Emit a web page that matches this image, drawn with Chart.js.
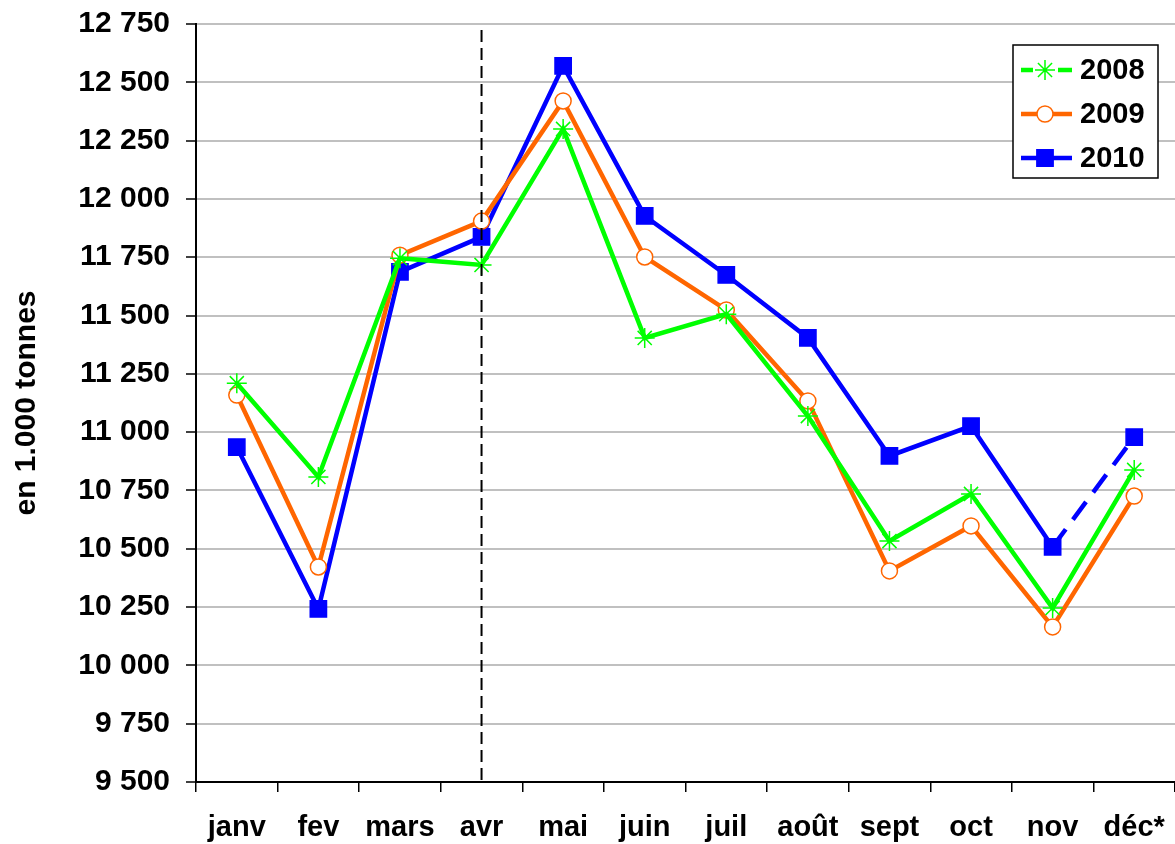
<!DOCTYPE html>
<html>
<head>
<meta charset="utf-8">
<script src="https://cdn.jsdelivr.net/npm/chart.js@4.4.0/dist/chart.umd.min.js"></script>
<style>
  body { margin: 0; background: #fff; }
</style>
</head>
<body>
<canvas id="graphique" width="1175" height="844"></canvas>
<script>
// donnees (en 1.000 tonnes)
const mois = ["janv", "fev", "mars", "avr", "mai", "juin", "juil", "août", "sept", "oct", "nov", "déc*"];
const valeurs2008 = [11210, 10808, 11746, 11717, 12300, 11404, 11506, 11069, 10533, 10735, 10246, 10838];
const valeurs2009 = [11159, 10422, 11759, 11905, 12420, 11751, 11524, 11134, 10405, 10598, 10165, 10726];
const valeurs2010 = [10936, 10242, 11687, 11837, 12570, 11927, 11674, 11404, 10898, 11026, 10508, 10979];
const moisMarque = "avr";

const police = "'Liberation Sans', Arial, sans-serif";

function formatMilliers(v) {
    return String(v).replace(/\B(?=(\d{3})+(?!\d))/g, " ");
}

// ligne verticale en pointilles sur avril
const lignePointillee = {
    id: "lignePointillee",
    afterDatasetsDraw(chart) {
        const ctx = chart.ctx;
        const x = chart.scales.x.getPixelForValue(mois.indexOf(moisMarque));
        ctx.save();
        ctx.strokeStyle = "#000";
        ctx.lineWidth = 2;
        ctx.setLineDash([12, 6]);
        ctx.beginPath();
        ctx.moveTo(x, chart.chartArea.top + 6);
        ctx.lineTo(x, chart.chartArea.bottom);
        ctx.stroke();
        ctx.restore();
    }
};

// legende encadree dans le coin haut droit
const legendeBoite = {
    id: "legendeBoite",
    afterDraw(chart) {
        const ctx = chart.ctx;
        const a = chart.chartArea;
        const gauche = a.right - 162, haut = a.top + 21;
        ctx.save();
        ctx.fillStyle = "#fff";
        ctx.fillRect(gauche, haut, 145, 133);
        ctx.strokeStyle = "#000";
        ctx.lineWidth = 1.5;
        ctx.strokeRect(gauche, haut, 145, 133);
        chart.data.datasets.forEach((ds, n) => {
            const y = haut + 25 + n * 44;
            ctx.strokeStyle = ds.borderColor;
            ctx.lineWidth = 4.5;
            ctx.setLineDash([]);
            ctx.beginPath();
            ctx.moveTo(gauche + 8, y);
            ctx.lineTo(gauche + 59, y);
            ctx.stroke();
            if (ds.pointStyle === "star") {
                ctx.fillStyle = "#fff";
                ctx.fillRect(gauche + 20, y - 4, 25, 8);
            }
            ctx.fillStyle = ds.pointBackgroundColor;
            ctx.strokeStyle = ds.pointBorderColor;
            ctx.lineWidth = ds.pointBorderWidth;
            Chart.helpers.drawPoint(ctx, {
                pointStyle: ds.pointStyle,
                radius: ds.pointRadius,
                borderWidth: ds.pointBorderWidth,
                rotation: 0
            }, gauche + 32, y);
            ctx.fillStyle = "#000";
            ctx.font = "bold 29px " + police;
            ctx.textBaseline = "middle";
            ctx.fillText(ds.label, gauche + 67, y + 1);
        });
        ctx.restore();
    }
};

function serie(label, donnees, couleur, style, rayon, fond, ordre) {
    return {
        label: label,
        data: donnees,
        borderColor: couleur,
        borderWidth: 4.5,
        pointStyle: style,
        pointRadius: rayon,
        pointHoverRadius: rayon,
        pointBackgroundColor: fond,
        pointBorderColor: couleur,
        pointBorderWidth: 1.5,
        tension: 0,
        order: ordre
    };
}

const ds2008 = serie("2008", valeurs2008, "#00ff00", "star", 10, "#00ff00", 0);
const ds2009 = serie("2009", valeurs2009, "#ff6600", "circle", 8, "#ffffff", 1);
const ds2010 = serie("2010", valeurs2010, "#0000ff", "rect", 11.5, "#0000ff", 2);
ds2010.segment = {
    borderDash: ctx => ctx.p0DataIndex === mois.length - 2 ? [22, 12] : undefined
};

new Chart(document.getElementById("graphique"), {
    type: "line",
    data: {
        labels: mois,
        datasets: [ds2008, ds2009, ds2010]
    },
    options: {
        responsive: false,
        animation: false,
        devicePixelRatio: 1,
        layout: { autoPadding: false, padding: { top: 24, right: 0, left: 8, bottom: 0 } },
        plugins: {
            legend: { display: false },
            tooltip: { enabled: false }
        },
        scales: {
            x: {
                offset: true,
                afterFit: s => { s.height = 62; s.paddingLeft = 0; s.paddingRight = 0; },
                grid: {
                    offset: true,
                    drawOnChartArea: false,
                    drawTicks: true,
                    tickLength: 10,
                    color: "#000",
                    lineWidth: 1.5
                },
                border: { display: true, color: "#000", width: 2 },
                ticks: {
                    color: "#000",
                    padding: 19,
                    maxRotation: 0,
                    autoSkip: false,
                    font: { family: police, size: 29, weight: "bold" }
                }
            },
            y: {
                min: 9500,
                max: 12750,
                afterFit: s => { s.width = 188; s.paddingTop = 0; s.paddingBottom = 0; },
                grid: {
                    color: "#c0c0c0",
                    lineWidth: 2,
                    tickColor: "#000",
                    tickLength: 10,
                    tickWidth: 1.5
                },
                border: { display: true, color: "#000", width: 2 },
                ticks: {
                    stepSize: 250,
                    color: "#000",
                    padding: 16,
                    font: { family: police, size: 30, weight: "bold" },
                    callback: v => formatMilliers(v)
                },
                title: {
                    display: true,
                    text: "en 1.000 tonnes",
                    color: "#000",
                    padding: { top: 1, bottom: 0 },
                    font: { family: police, size: 30, weight: "bold" }
                }
            }
        }
    },
    plugins: [lignePointillee, legendeBoite]
});
</script>
</body>
</html>
